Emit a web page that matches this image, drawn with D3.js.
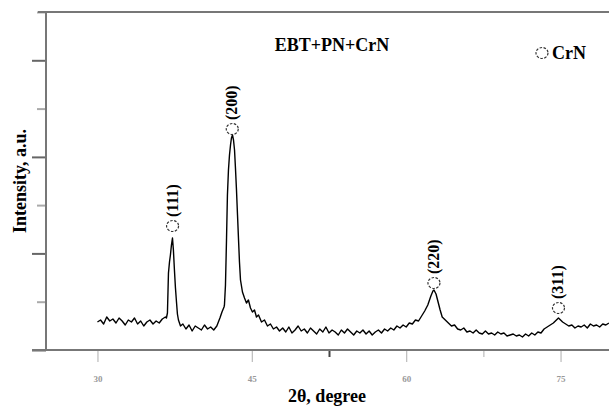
<!DOCTYPE html>
<html><head><meta charset="utf-8">
<script src="https://cdn.jsdelivr.net/npm/d3@7"></script>
<style>html,body{margin:0;padding:0;background:#fff;overflow:hidden}svg{display:block}</style>
</head><body>
<svg id="c" width="609" height="406"></svg>
<script>
// ---- data ----
const twoTheta = [30.0,30.3,30.6,30.9,31.2,31.5,31.8,32.1,32.4,32.7,33.0,33.3,33.6,33.9,34.2,34.5,34.8,35.1,35.4,35.7,36.0,36.3,36.6,
36.70,36.80,36.90,37.00,37.09,37.19,37.29,37.38,37.48,37.58,37.68,37.77,37.87,38.07,
38.3,38.6,38.9,39.2,39.5,39.8,40.1,40.4,40.7,41.0,41.3,41.6,41.9,42.1,42.3,
42.34,42.44,42.54,42.63,42.73,42.83,42.93,43.02,43.12,43.22,43.32,43.41,43.51,43.61,43.71,43.80,43.90,44.09,44.29,44.48,44.67,44.87,45.06,45.26,45.45,45.65,45.94,46.23,46.52,46.81,47.10,47.40,47.69,
48.0,48.3,48.6,48.9,49.2,49.5,49.8,50.1,50.4,50.7,51.0,51.3,51.6,51.9,52.2,52.5,52.8,53.1,53.4,53.7,54.0,54.3,54.6,54.9,55.2,55.5,55.8,56.1,56.4,56.7,57.0,57.3,57.6,57.9,58.2,58.5,58.8,59.1,59.4,59.7,60.0,60.3,60.6,60.9,61.2,61.5,61.8,62.1,62.4,62.6,62.7,62.9,63.1,63.3,63.5,63.8,64.1,64.4,64.7,65.0,65.3,65.6,65.9,66.2,66.5,66.8,67.1,67.4,67.7,68.0,68.3,68.6,68.9,69.2,69.5,69.8,
70.1,70.4,70.7,71.0,71.3,71.6,71.9,72.2,72.5,72.8,73.1,73.4,73.7,74.0,74.3,74.5,74.7,74.8,75.0,75.2,75.5,75.8,76.1,76.4,76.7,77.0,77.3,77.6,77.9,78.2,78.5,78.8,79.1,79.4,79.7];
const intensity = [280,300,260,330,290,310,270,320,290,250,300,280,320,260,290,240,280,300,260,290,270,310,330,
320,370,770,880,950,1050,1120,1000,800,620,480,360,300,240,
260,210,250,190,240,220,200,250,210,230,200,240,320,380,430,
450,650,1100,1550,1800,1950,2050,2120,2150,2100,2000,1820,1600,1350,1100,880,700,580,520,470,500,420,380,400,330,350,280,300,240,260,210,230,190,
220,180,230,170,200,240,190,210,170,220,190,160,210,180,230,170,200,180,150,200,170,210,180,150,190,170,200,160,190,150,180,200,170,210,190,220,200,240,220,250,230,270,260,300,290,340,390,450,540,590,600,560,480,400,330,300,270,240,250,210,200,220,180,190,170,200,170,160,190,160,170,150,180,160,170,140,
150,160,140,150,130,160,140,170,150,180,170,210,230,250,270,290,310,320,300,280,260,240,250,220,240,230,250,220,260,240,250,230,260,250,270];

const peakLabels = ["(111)","(200)","(220)","(311)"];
const peakTheta = [37.3, 43.1, 62.7, 74.8];
const markerIntensity = [1240, 2210, 670, 420];

const xTicks = [30, 45, 60, 75];
const xTickLabels = ["30", "45", "60", "75"];
const xMinorTicks = [52.5, 67.5];
const yTicks = [0, 483, 966, 1449, 1931, 2414, 2897, 3380];

const titleText = "EBT+PN+CrN";
const legendText = "CrN";
const xTitle = "2θ, degree";
const yTitle = "Intensity, a.u.";

// ---- chart ----
const svg = d3.select("#c");
const font = "'Liberation Serif','Times New Roman',serif";
const x = d3.scaleLinear().domain([25, 80]).range([46, 612]);
const y = d3.scaleLinear().domain([0, 3380]).range([350, 12]);

// y ticks (left)
const yAxis = d3.axisLeft(y).tickValues(yTicks).tickFormat("").tickSizeOuter(0)
  .tickSize(0);
const gy = svg.append("g").attr("transform","translate(46,0)").call(yAxis);
gy.select(".domain").remove();
gy.selectAll(".tick").append("line")
  .attr("x1", (d,i)=> i%2===0 ? -14 : -9).attr("x2",0)
  .attr("stroke", (d,i)=> i%2===0 ? "#666" : "#aaa")
  .attr("stroke-width", 2);

// x ticks (bottom)
const xAxis = d3.axisBottom(x).tickValues(xTicks).tickFormat((d,i)=>xTickLabels[i]).tickSize(12).tickSizeOuter(0).tickPadding(14);
const gx = svg.append("g").attr("transform","translate(0,350)").call(xAxis);
gx.select(".domain").remove();
gx.selectAll(".tick line").attr("stroke","#bbb").attr("stroke-width",1.2);
gx.selectAll(".tick text").attr("fill","#999").style("font-family",font).style("font-size","9px").style("font-weight","bold");
const gxm = svg.append("g").attr("transform","translate(0,350)")
  .call(d3.axisBottom(x).tickValues(xMinorTicks).tickFormat("").tickSize(7).tickSizeOuter(0));
gxm.select(".domain").remove();
gxm.selectAll(".tick line").attr("stroke",(d,i)=> i===0 ? "#444" : "#bbb").attr("stroke-width",(d,i)=> i===0 ? 2 : 1.2);

// frame lines
svg.append("line").attr("x1",46).attr("x2",46).attr("y1",y(3380)).attr("y2",y(0)).attr("stroke","#777").attr("stroke-width",2);
svg.append("line").attr("x1",32).attr("x2",609).attr("y1",y(0)).attr("y2",y(0)).attr("stroke","#777").attr("stroke-width",2.2);
svg.append("line").attr("x1",38).attr("x2",609).attr("y1",y(3380)).attr("y2",y(3380)).attr("stroke","#777").attr("stroke-width",2.2);

// curve
const pts = twoTheta.map((t,i)=>[t,intensity[i]]);
svg.append("path").datum(pts)
  .attr("d", d3.line().x(d=>x(d[0])).y(d=>y(d[1])))
  .attr("fill","none").attr("stroke","#000").attr("stroke-width",1.4).attr("stroke-linejoin","round");

// peak markers and labels
peakLabels.forEach((lab,i)=>{
  const cx = x(peakTheta[i]), cy = y(markerIntensity[i]);
  svg.append("ellipse").attr("cx",cx).attr("cy",cy).attr("rx",6).attr("ry",5.5)
    .attr("fill","none").attr("stroke","#333").attr("stroke-width",1.2).attr("stroke-dasharray","2.5,1.5");
  svg.append("text").attr("transform",`translate(${cx+5},${cy-9}) rotate(-90)`)
    .attr("text-anchor","start").style("font-family",font).style("font-size","16px").style("font-weight","bold")
    .text(lab);
});

// title
svg.append("text").attr("x",332).attr("y",51).attr("text-anchor","middle")
  .style("font-family",font).style("font-size","18px").style("font-weight","bold").text(titleText);

// legend
svg.append("ellipse").attr("cx",542).attr("cy",53).attr("rx",6).attr("ry",5.5)
  .attr("fill","none").attr("stroke","#333").attr("stroke-width",1.2).attr("stroke-dasharray","2.5,1.5");
svg.append("text").attr("x",552).attr("y",59)
  .style("font-family",font).style("font-size","18px").style("font-weight","bold").text(legendText);

// axis titles
svg.append("text").attr("x",327).attr("y",402).attr("text-anchor","middle")
  .style("font-family",font).style("font-size","18px").style("font-weight","bold").text(xTitle);
svg.append("text").attr("transform","translate(26,181) rotate(-90)").attr("text-anchor","middle")
  .style("font-family",font).style("font-size","18px").style("font-weight","bold").text(yTitle);
</script>
</body></html>
